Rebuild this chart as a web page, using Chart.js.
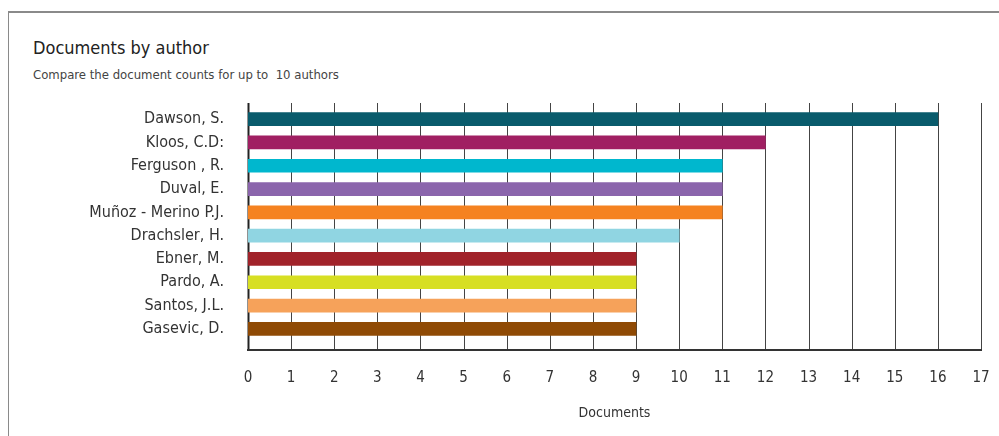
<!DOCTYPE html>
<html>
<head>
<meta charset="utf-8">
<script src="https://cdn.jsdelivr.net/npm/chart.js@4/dist/chart.umd.min.js"></script>
<style>
  html, body { margin: 0; padding: 0; background: #fff; }
  body { width: 999px; height: 436px; position: relative; overflow: hidden;
         font-family: 'DejaVu Sans Condensed', 'Liberation Sans Narrow', sans-serif; }
  #frame { position: absolute; left: 8px; top: 11px; right: -2px; bottom: -2px;
           border-left: 1px solid #8a8a8a; border-top: 2px solid #8a8a8a; }
  #title { position: absolute; left: 33px; top: 37px; font-size: 18px; color: #222; white-space: nowrap; }
  #subtitle { position: absolute; left: 33px; top: 67px; font-size: 13px; color: #444; white-space: nowrap; }
  #wrap { position: absolute; left: 0; top: 0; width: 999px; height: 436px; }
</style>
</head>
<body>
<div id="frame"></div>
<div id="title">Documents by author</div>
<div id="subtitle">Compare the document counts for up to &nbsp;10 authors</div>
<div id="wrap"><canvas id="c" width="999" height="436"></canvas></div>
<script>
const authors = ['Dawson, S.', 'Kloos, C.D:', 'Ferguson , R.', 'Duval, E.', 'Muñoz - Merino P.J.',
                 'Drachsler, H.', 'Ebner, M.', 'Pardo, A.', 'Santos, J.L.', 'Gasevic, D.'];
const documentCounts = [16, 12, 11, 11, 11, 10, 9, 9, 9, 9];
const barColors = ['#095B6C', '#A01F62', '#00B7CE', '#8B65AC', '#F58220',
                   '#90D5E2', '#A1232A', '#D7DF23', '#F6A25A', '#8F4A05'];
const xTicks = [0, 1, 2, 3, 4, 5, 6, 7, 8, 9, 10, 11, 12, 13, 14, 15, 16, 17];
const xAxisTitle = 'Documents';

const FONT = "'DejaVu Sans Condensed', 'Liberation Sans Narrow', sans-serif";

const gridPlugin = {
  id: 'customGrid',
  beforeDatasetsDraw(chart) {
    const ctx = chart.ctx;
    const xs = chart.scales.x;
    const area = chart.chartArea;
    const top = area.top - 4.5;
    const bottom = area.bottom + 9.5;
    ctx.save();
    xTicks.forEach(v => {
      const x = Math.round(xs.getPixelForValue(v)) + 0.5;
      ctx.beginPath();
      ctx.strokeStyle = v === 0 ? '#222' : '#444';
      ctx.lineWidth = v === 0 ? 2 : 1;
      ctx.moveTo(x, top);
      ctx.lineTo(x, bottom);
      ctx.stroke();
    });
    ctx.beginPath();
    ctx.strokeStyle = '#333';
    ctx.lineWidth = 2;
    ctx.moveTo(xs.getPixelForValue(0) - 1, bottom);
    ctx.lineTo(xs.getPixelForValue(17) + 1, bottom);
    ctx.stroke();
    ctx.restore();
  }
};

new Chart(document.getElementById('c'), {
  type: 'bar',
  data: {
    labels: authors,
    datasets: [{
      data: documentCounts,
      backgroundColor: barColors,
      borderWidth: 0,
      barThickness: 13
    }]
  },
  options: {
    indexAxis: 'y',
    responsive: false,
    animation: false,
    layout: { padding: { left: 0, right: 18, top: 107.5, bottom: 0 } },
    plugins: { legend: { display: false }, tooltip: { enabled: false } },
    scales: {
      x: {
        min: 0, max: 17,
        afterFit(scale) { scale.height = 95.5; scale.paddingLeft = 0; scale.paddingRight = 0; },
        afterBuildTicks(scale) { scale.ticks = xTicks.map(v => ({ value: v })); },
        grid: { display: false, drawTicks: false },
        border: { display: false },
        ticks: { color: '#333', font: { family: FONT, size: 15 }, padding: 29, autoSkip: false, maxRotation: 0 },
        title: { display: true, text: xAxisTitle, color: '#333', font: { family: FONT, size: 14 }, padding: { top: 4, bottom: 14 } }
      },
      y: {
        afterFit(scale) { scale.width = 248; },
        grid: { display: false, drawTicks: false },
        border: { display: false },
        ticks: { color: '#333', font: { family: FONT, size: 16 }, padding: 24, autoSkip: false }
      }
    }
  },
  plugins: [gridPlugin]
});
</script>
</body>
</html>
